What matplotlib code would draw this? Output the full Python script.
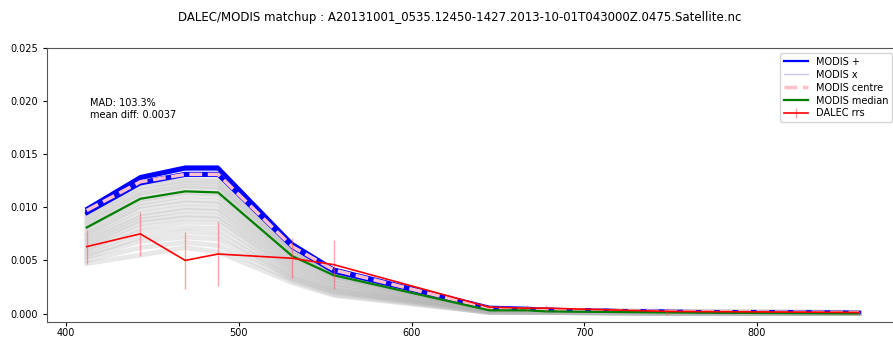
import matplotlib
matplotlib.use("Agg")
import matplotlib.pyplot as plt

title = "DALEC/MODIS matchup : A20131001_0535.12450-1427.2013-10-01T043000Z.0475.Satellite.nc"
wl = [412, 443, 469, 488, 531, 555, 645, 667, 678, 748, 859]

# MODIS x pixels (grey)
modis_x = [
    [0.0094, 0.0122, 0.0128, 0.0127, 0.0062, 0.0040, 0.0004, 0.0003, 0.0003, 0.0002, 0.0001],
    [0.0091, 0.0119, 0.0125, 0.0124, 0.0060, 0.0039, 0.0004, 0.0003, 0.0003, 0.0002, 0.0001],
    [0.0089, 0.0116, 0.0123, 0.0122, 0.0059, 0.0038, 0.0004, 0.0003, 0.0003, 0.0002, 0.0001],
    [0.0086, 0.0113, 0.0120, 0.0119, 0.0057, 0.0037, 0.0003, 0.0003, 0.0002, 0.0001, 0.0001],
    [0.0084, 0.0111, 0.0118, 0.0117, 0.0056, 0.0036, 0.0003, 0.0003, 0.0002, 0.0001, 0.0001],
    [0.0081, 0.0107, 0.0114, 0.0113, 0.0054, 0.0035, 0.0003, 0.0002, 0.0002, 0.0001, 0.0000],
    [0.0078, 0.0104, 0.0111, 0.0110, 0.0052, 0.0034, 0.0003, 0.0002, 0.0002, 0.0001, 0.0000],
    [0.0075, 0.0101, 0.0107, 0.0106, 0.0050, 0.0032, 0.0003, 0.0002, 0.0002, 0.0001, 0.0000],
    [0.0073, 0.0098, 0.0104, 0.0103, 0.0048, 0.0031, 0.0003, 0.0002, 0.0002, 0.0001, 0.0000],
    [0.0070, 0.0094, 0.0100, 0.0099, 0.0046, 0.0029, 0.0002, 0.0002, 0.0002, 0.0001, 0.0000],
    [0.0068, 0.0091, 0.0097, 0.0096, 0.0044, 0.0028, 0.0002, 0.0002, 0.0002, 0.0001, 0.0000],
    [0.0065, 0.0088, 0.0093, 0.0092, 0.0042, 0.0026, 0.0002, 0.0002, 0.0001, 0.0001, 0.0000],
    [0.0063, 0.0085, 0.0090, 0.0089, 0.0040, 0.0025, 0.0002, 0.0002, 0.0001, 0.0001, 0.0000],
    [0.0060, 0.0081, 0.0086, 0.0085, 0.0038, 0.0023, 0.0002, 0.0001, 0.0001, 0.0000, 0.0000],
    [0.0058, 0.0077, 0.0081, 0.0080, 0.0036, 0.0022, 0.0002, 0.0001, 0.0001, 0.0000, 0.0000],
    [0.0055, 0.0072, 0.0077, 0.0075, 0.0034, 0.0021, 0.0001, 0.0001, 0.0001, 0.0000, 0.0000],
    [0.0053, 0.0068, 0.0072, 0.0070, 0.0033, 0.0020, 0.0001, 0.0001, 0.0001, 0.0000, 0.0000],
    [0.0050, 0.0062, 0.0067, 0.0064, 0.0031, 0.0018, 0.0001, 0.0001, 0.0001, 0.0000, 0.0000],
    [0.0047, 0.0055, 0.0062, 0.0058, 0.0029, 0.0017, 0.0001, 0.0001, 0.0001, 0.0000, 0.0000],
]

# MODIS + pixels (blue)
modis_plus = [
    [0.0099, 0.0129, 0.0138, 0.0138, 0.0066, 0.0042, 0.0006, 0.0005, 0.0004, 0.0002, 0.0001],
    [0.0097, 0.0127, 0.0136, 0.0136, 0.0065, 0.0041, 0.0005, 0.0004, 0.0004, 0.0002, 0.0001],
    [0.0095, 0.0124, 0.0132, 0.0132, 0.0063, 0.0040, 0.0005, 0.0004, 0.0004, 0.0002, 0.0001],
    [0.0094, 0.0122, 0.0130, 0.0130, 0.0062, 0.0039, 0.0005, 0.0004, 0.0003, 0.0002, 0.0001],
]

modis_centre = [0.0097, 0.0124, 0.0131, 0.0131, 0.0063, 0.0041, 0.0005, 0.0004, 0.0004, 0.0002, 0.0001]
modis_median = [0.0081, 0.0108, 0.0115, 0.0114, 0.0054, 0.0036, 0.0003, 0.0003, 0.0002, 0.0001, 0.0000]
dalec = [0.0063, 0.0075, 0.0050, 0.0056, 0.0052, 0.0046, 0.0006, 0.0005, 0.0005, 0.0002, 0.0001]
dalec_err = [0.0016, 0.0021, 0.0027, 0.0030, 0.0019, 0.0023, 0.0002, 0.0003, 0.0003, 0.0003, 0.0001]

stats_text = "MAD: 103.3%\nmean diff: 0.0037"

fig = plt.figure(figsize=(8.93, 3.4), dpi=100)
ax = fig.add_axes([47/893, 1-322/340, (897-47)/893, (322-48)/340])

for i, row in enumerate(modis_x):
    ax.plot(wl, row, color="#b4b4b4", alpha=0.3, lw=3.5)
for i, row in enumerate(modis_plus):
    lp, = ax.plot(wl, row, color="blue", lw=2.2)
lc, = ax.plot(wl, modis_centre, color="pink", lw=2.5, ls="--")
lm, = ax.plot(wl, modis_median, color="green", lw=1.6)
ld = ax.errorbar(wl, dalec, yerr=dalec_err, color="red", lw=1.2,
                 elinewidth=1, ecolor=(1, 0.3, 0.3, 0.5))

lx_leg = plt.Line2D([], [], color="#c8c8e8", lw=1)
lp_leg = plt.Line2D([], [], color="blue", lw=1.6)
ax.legend([lp_leg, lx_leg, lc, lm, ld],
          ["MODIS +", "MODIS x", "MODIS centre", "MODIS median", "DALEC rrs"],
          loc="upper right", fontsize=7, handlelength=2.5, borderpad=0.4, labelspacing=0.3)

ax.text(414, 0.0203, stats_text, fontsize=7, va="top", ha="left")

ax.set_ylim(-0.0008, 0.025)
ax.set_xlim(389, 881)
ax.set_yticks([0.0, 0.005, 0.01, 0.015, 0.02, 0.025])
ax.set_xticks([400, 500, 600, 700, 800])
ax.tick_params(labelsize=7, length=3)
ax.tick_params(axis="x", pad=1)
for s in ax.spines.values():
    s.set_color("#555555")

fig.suptitle(title, x=460/893, y=1-18/340, va="center", fontsize=8.5)

fig.savefig("out.png", dpi=100)
